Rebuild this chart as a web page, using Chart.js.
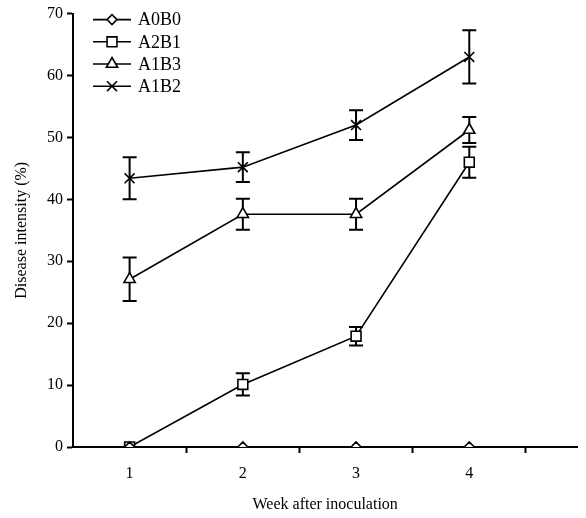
<!DOCTYPE html>
<html>
<head>
<meta charset="utf-8">
<script src="https://cdn.jsdelivr.net/npm/chart.js@4.4.1/dist/chart.umd.min.js"></script>
<style>
  html, body { margin: 0; padding: 0; background: #fff; }
  #wrap { width: 586px; height: 518px; }
</style>
</head>
<body>
<div id="wrap"><canvas id="diseaseChart"></canvas></div>
<script>
const weeks = [1, 2, 3, 4];
const seriesNames = ["A0B0", "A2B1", "A1B3", "A1B2"];
const a0b0 = [0, 0, 0, 0];
const a2b1 = [0, 10.1, 17.9, 46.0];
const a1b3 = [27.1, 37.6, 37.6, 51.2];
const a1b2 = [43.4, 45.2, 52.0, 63.0];
const a0b0Err = [0, 0, 0, 0];
const a2b1Err = [0, 1.8, 1.5, 2.5];
const a1b3Err = [3.5, 2.5, 2.5, 2.1];
const a1b2Err = [3.4, 2.4, 2.4, 4.3];
const yTicks = [0, 10, 20, 30, 40, 50, 60, 70];

const FONT = "'Liberation Serif', 'Times New Roman', serif";
const markerSize = { rectRot: 5, rect: 7, triangle: 6.5, crossRot: 7 };

const toPoints = (vals) => vals.map((v, i) => ({ x: weeks[i], y: v }));

const makeSet = (label, vals, errs, style) => ({
  label: label,
  data: toPoints(vals),
  errors: errs,
  borderColor: "#000",
  borderWidth: 1.6,
  pointStyle: style,
  pointRadius: markerSize[style],
  pointBorderWidth: 1.6,
  pointBackgroundColor: "#fff",
  pointBorderColor: "#000",
  tension: 0
});

const errorBars = {
  id: "errorBars",
  beforeDatasetsDraw(chart) {
    const ctx = chart.ctx;
    const xs = chart.scales.x;
    const ys = chart.scales.y;
    ctx.save();
    ctx.strokeStyle = "#000";
    ctx.lineWidth = 2;
    chart.data.datasets.forEach((ds) => {
      ds.data.forEach((pt, i) => {
        const e = ds.errors[i];
        if (!e) return;
        const px = xs.getPixelForValue(pt.x);
        const top = ys.getPixelForValue(pt.y + e);
        const bot = ys.getPixelForValue(pt.y - e);
        ctx.beginPath();
        ctx.moveTo(px, top);
        ctx.lineTo(px, bot);
        ctx.moveTo(px - 7, top);
        ctx.lineTo(px + 7, top);
        ctx.moveTo(px - 7, bot);
        ctx.lineTo(px + 7, bot);
        ctx.stroke();
      });
    });
    ctx.restore();
  }
};

const lineLegend = {
  id: "lineLegend",
  afterDraw(chart) {
    const ctx = chart.ctx;
    const x0 = chart.chartArea.left + 20;
    let y = chart.chartArea.top + 6;
    ctx.save();
    chart.data.datasets.forEach((ds) => {
      ctx.strokeStyle = "#000";
      ctx.lineWidth = 1.6;
      ctx.beginPath();
      ctx.moveTo(x0, y);
      ctx.lineTo(x0 + 38, y);
      ctx.stroke();
      ctx.fillStyle = "#fff";
      Chart.helpers.drawPoint(ctx, {
        pointStyle: ds.pointStyle,
        radius: ds.pointRadius,
        borderWidth: ds.pointBorderWidth
      }, x0 + 19, y);
      ctx.fillStyle = "#000";
      ctx.font = "18px " + FONT;
      ctx.textBaseline = "middle";
      ctx.fillText(ds.label, x0 + 45, y + 1);
      y += 22.2;
    });
    ctx.restore();
  }
};

new Chart(document.getElementById("diseaseChart"), {
  type: "line",
  data: {
    datasets: [
      makeSet(seriesNames[0], a0b0, a0b0Err, "rectRot"),
      makeSet(seriesNames[1], a2b1, a2b1Err, "rect"),
      makeSet(seriesNames[2], a1b3, a1b3Err, "triangle"),
      makeSet(seriesNames[3], a1b2, a1b2Err, "crossRot")
    ]
  },
  options: {
    responsive: true,
    maintainAspectRatio: false,
    animation: false,
    layout: { padding: { top: 5, right: 0, left: 8 } },
    plugins: {
      legend: { display: false },
      tooltip: { enabled: false }
    },
    scales: {
      x: {
        type: "linear",
        min: 0.5,
        max: 4.955,
        afterBuildTicks: (axis) => {
          axis.ticks = [1, 1.5, 2, 2.5, 3, 3.5, 4, 4.5].map((v) => ({ value: v }));
        },
        afterFit: (axis) => { axis.height = 71; },
        border: { color: "#000", width: 2 },
        grid: {
          drawOnChartArea: false,
          tickLength: 6,
          tickWidth: 2,
          tickColor: (c) => (c.tick && Number.isInteger(c.tick.value) ? "rgba(0,0,0,0)" : "#000")
        },
        ticks: {
          color: "#000",
          padding: 11,
          maxRotation: 0,
          font: { family: FONT, size: 16 },
          callback: (v) => (Number.isInteger(v) ? String(v) : "")
        },
        title: {
          display: true,
          text: "Week after inoculation",
          color: "#000",
          font: { family: FONT, size: 16 },
          padding: { top: 6 }
        }
      },
      y: {
        min: 0,
        max: 70,
        afterBuildTicks: (axis) => {
          axis.ticks = yTicks.map((v) => ({ value: v }));
        },
        afterFit: (axis) => { axis.width = 65; },
        border: { color: "#000", width: 2 },
        grid: {
          drawOnChartArea: false,
          tickLength: 6,
          tickWidth: 2,
          tickColor: "#000"
        },
        ticks: {
          color: "#000",
          padding: 4,
          font: { family: FONT, size: 16 }
        },
        title: {
          display: true,
          text: "Disease intensity (%)",
          color: "#000",
          font: { family: FONT, size: 16 },
          padding: { bottom: 6 }
        }
      }
    }
  },
  plugins: [errorBars, lineLegend]
});
</script>
</body>
</html>
